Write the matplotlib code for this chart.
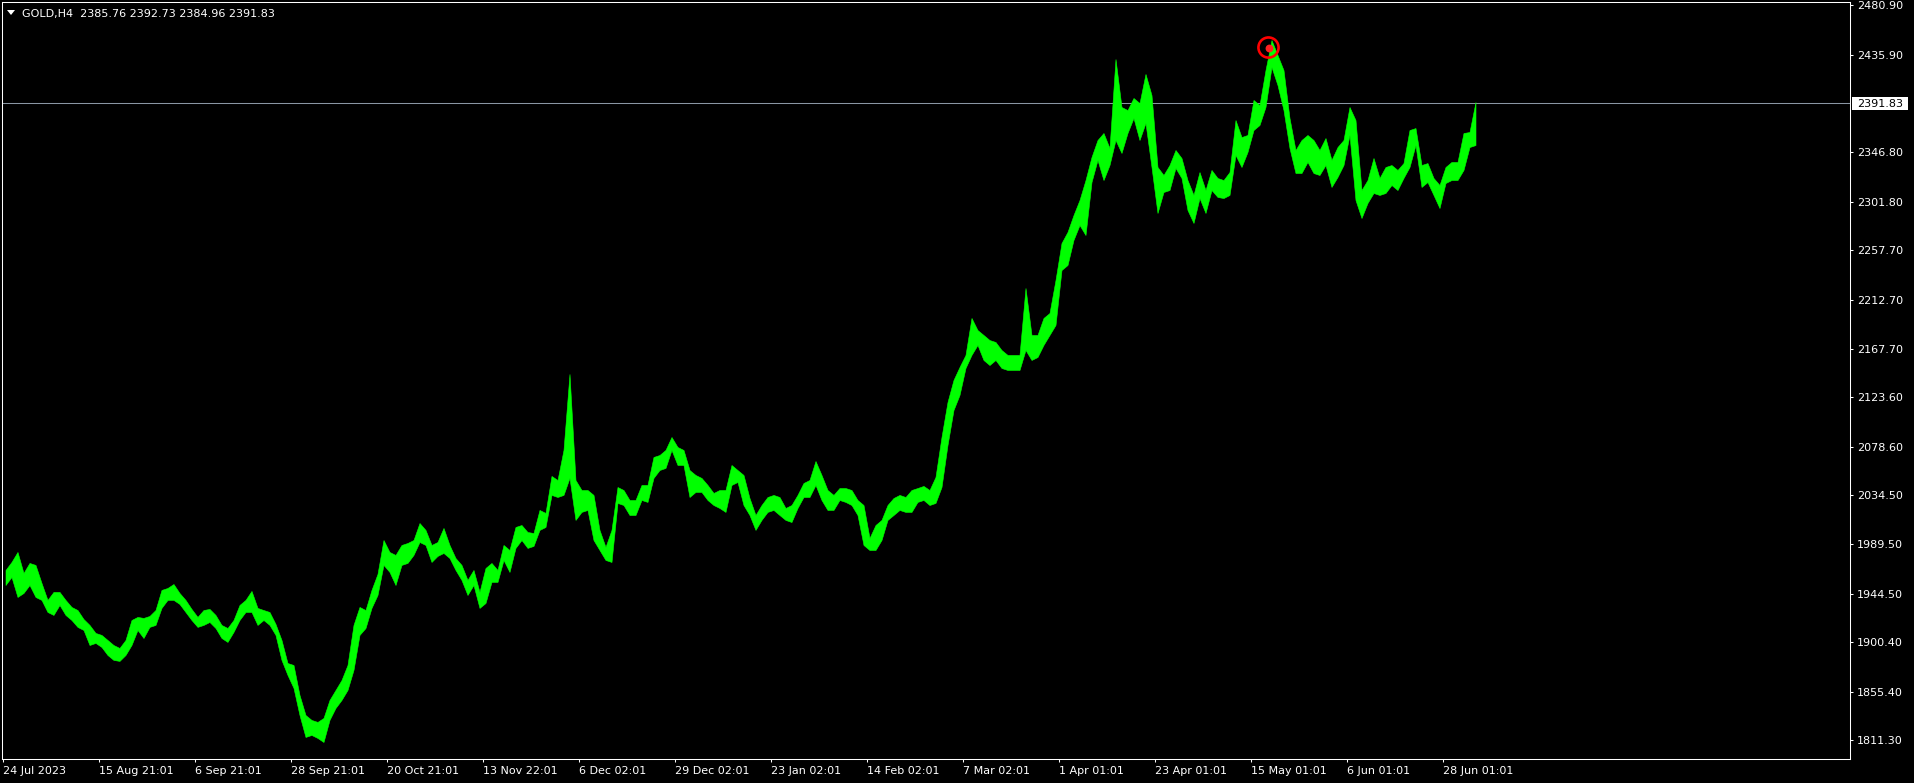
import numpy as np
import matplotlib.pyplot as plt
from matplotlib.patches import Polygon, Rectangle
from matplotlib.transforms import IdentityTransform

# GOLD,H4 - one high/low reading per trading day (6 H4 bars)
day_high = [
    1966.2, 1973.5, 1982.6, 1963.5, 1972.6, 1970.8, 1954.4, 1938.9, 1946.2, 1946.2,
    1938.9, 1932.5, 1929.7, 1921.5, 1916.1, 1908.8, 1907.0, 1902.4, 1897.8, 1895.1,
    1902.4, 1920.6, 1923.4, 1922.5, 1924.3, 1929.7, 1948.0, 1949.8, 1953.4, 1945.2,
    1938.9, 1930.7, 1923.4, 1929.7, 1930.7, 1925.2, 1916.1, 1913.3, 1920.6, 1934.3,
    1938.9, 1947.1, 1931.6, 1929.7, 1927.9, 1917.0, 1902.4, 1881.4, 1879.6, 1852.3,
    1834.0, 1829.5, 1827.7, 1831.3, 1847.7, 1856.8, 1865.9, 1879.6, 1916.1, 1932.5,
    1929.7, 1948.0, 1962.6, 1993.5, 1982.6, 1979.9, 1989.0, 1990.8, 1993.5, 2009.0,
    2002.7, 1989.0, 1991.7, 2004.5, 1989.0, 1977.1, 1970.8, 1957.1, 1966.2, 1946.2,
    1968.0, 1972.6, 1966.2, 1989.0, 1984.4, 2005.4, 2007.2, 2000.8, 1999.9, 2020.9,
    2018.2, 2051.9, 2048.2, 2075.6, 2144.8, 2048.2, 2039.1, 2039.1, 2034.6, 2002.7,
    1987.2, 2002.7, 2041.8, 2039.1, 2030.0, 2030.0, 2043.7, 2043.7, 2069.2, 2071.0,
    2075.6, 2087.4, 2078.3, 2075.6, 2057.3, 2052.8, 2050.1, 2043.7, 2036.4, 2039.1,
    2039.1, 2061.9, 2057.3, 2052.8, 2031.8, 2016.3, 2025.4, 2032.7, 2034.6, 2032.7,
    2022.7, 2025.4, 2034.6, 2045.5, 2048.2, 2065.5, 2052.8, 2039.1, 2034.6, 2040.9,
    2040.9, 2039.1, 2030.0, 2025.4, 1995.4, 2007.2, 2011.8, 2025.4, 2031.8, 2034.6,
    2032.7, 2039.1, 2040.9, 2042.8, 2039.1, 2051.0, 2087.4, 2119.3, 2139.4, 2151.2,
    2162.2, 2195.9, 2184.9, 2180.4, 2175.8, 2174.0, 2166.7, 2162.2, 2162.2, 2162.2,
    2223.2, 2180.4, 2180.4, 2195.9, 2200.4, 2230.5, 2264.2, 2274.3, 2289.7, 2303.4,
    2321.6, 2342.6, 2358.1, 2364.5, 2350.8, 2431.9, 2388.2, 2385.4, 2396.4, 2391.8,
    2418.3, 2399.1, 2333.5, 2326.2, 2335.3, 2349.0, 2341.7, 2321.6, 2308.0, 2328.9,
    2312.5, 2330.8, 2323.5, 2321.6, 2328.9, 2376.3, 2360.8, 2362.7, 2394.6, 2390.0,
    2421.9, 2449.2, 2435.6, 2421.9, 2378.2, 2349.0, 2358.1, 2362.7, 2358.1, 2349.0,
    2359.9, 2339.9, 2351.7, 2358.1, 2388.2, 2376.3, 2312.5, 2321.6, 2341.7, 2323.5,
    2333.5, 2335.3, 2330.8, 2337.1, 2367.2, 2369.0, 2335.3, 2337.1, 2323.5, 2317.1,
    2333.5, 2338.1, 2338.1, 2364.5, 2365.4, 2392.7,
]
day_low = [
    1952.5, 1959.8, 1941.6, 1945.2, 1952.5, 1941.6, 1938.9, 1927.9, 1925.2, 1934.3,
    1925.2, 1920.6, 1914.3, 1911.5, 1897.8, 1899.7, 1896.0, 1888.7, 1884.2, 1883.3,
    1888.7, 1897.8, 1911.5, 1904.2, 1914.3, 1916.1, 1931.6, 1938.9, 1938.9, 1935.2,
    1927.9, 1920.6, 1914.3, 1916.1, 1918.8, 1913.3, 1904.2, 1900.6, 1909.7, 1920.6,
    1927.9, 1927.9, 1916.1, 1920.6, 1916.1, 1907.0, 1884.2, 1870.5, 1858.7, 1834.0,
    1814.0, 1815.8, 1813.1, 1809.4, 1829.5, 1840.4, 1847.7, 1856.8, 1875.1, 1907.0,
    1913.3, 1931.6, 1943.4, 1970.8, 1964.4, 1952.5, 1970.8, 1972.6, 1979.9, 1991.7,
    1989.0, 1973.5, 1979.0, 1981.7, 1977.1, 1966.2, 1957.1, 1943.4, 1952.5, 1931.6,
    1936.1, 1955.3, 1955.3, 1975.3, 1964.4, 1986.3, 1993.5, 1986.3, 1988.1, 2002.7,
    2005.4, 2034.6, 2032.7, 2034.6, 2050.1, 2011.8, 2019.1, 2020.9, 1993.5, 1984.4,
    1975.3, 1973.5, 2027.3, 2025.4, 2016.3, 2016.3, 2030.0, 2028.2, 2050.1, 2057.3,
    2059.2, 2075.6, 2061.9, 2061.9, 2032.7, 2037.3, 2037.3, 2030.0, 2025.4, 2022.7,
    2019.1, 2043.7, 2046.4, 2025.4, 2016.3, 2002.7, 2011.8, 2019.1, 2020.9, 2016.3,
    2011.8, 2009.9, 2022.7, 2032.7, 2032.7, 2043.7, 2030.0, 2020.9, 2020.9, 2030.0,
    2028.2, 2025.4, 2016.3, 1989.0, 1984.4, 1984.4, 1993.5, 2011.8, 2016.3, 2020.9,
    2019.1, 2019.1, 2028.2, 2030.0, 2025.4, 2027.3, 2041.8, 2080.1, 2112.0, 2125.7,
    2150.3, 2162.2, 2171.3, 2157.6, 2153.0, 2157.6, 2150.3, 2148.5, 2148.5, 2148.5,
    2166.7, 2157.6, 2160.3, 2171.3, 2180.4, 2189.5, 2239.6, 2244.2, 2267.0, 2280.6,
    2271.5, 2319.8, 2339.9, 2321.6, 2335.3, 2358.1, 2346.3, 2364.5, 2378.2, 2358.1,
    2373.6, 2333.5, 2291.6, 2310.7, 2312.5, 2332.6, 2323.5, 2294.3, 2282.5, 2305.2,
    2291.6, 2312.5, 2306.2, 2305.2, 2308.0, 2344.4, 2333.5, 2347.2, 2367.2, 2371.8,
    2388.2, 2424.6, 2408.2, 2385.4, 2350.8, 2328.0, 2328.0, 2338.1, 2328.0, 2326.2,
    2335.3, 2315.3, 2324.4, 2335.3, 2362.7, 2303.4, 2287.0, 2300.7, 2309.8, 2308.0,
    2309.8, 2317.1, 2312.5, 2323.5, 2333.5, 2353.5, 2315.3, 2319.8, 2308.0, 2296.1,
    2318.9, 2321.6, 2321.6, 2330.8, 2351.7, 2353.5,
]

date_labels = ["24 Jul 2023", "15 Aug 21:01", "6 Sep 21:01", "28 Sep 21:01",
               "20 Oct 21:01", "13 Nov 22:01", "6 Dec 02:01", "29 Dec 02:01",
               "23 Jan 02:01", "14 Feb 02:01", "7 Mar 02:01", "1 Apr 01:01",
               "23 Apr 01:01", "15 May 01:01", "6 Jun 01:01", "28 Jun 01:01"]
price_ticks = [2480.90, 2435.90, 2346.80, 2301.80, 2257.70, 2212.70, 2167.70,
               2123.60, 2078.60, 2034.50, 1989.50, 1944.50, 1900.40, 1855.40, 1811.30]

last_ohlc = [2385.76, 2392.73, 2384.96, 2391.83]   # open high low close
bid = 2391.83
peak_bar, peak_price = 1265.5, 2442.4

bars_per_day = 6
bars_per_label = 96

W, H = 1914, 783
fig = plt.figure(figsize=(W / 100, H / 100), dpi=100, facecolor='black')
ax = fig.add_axes([2 / W, 24 / H, 1848 / W, 757 / H])
ax.set_facecolor('black')

bars = np.arange(len(day_high)) * bars_per_day + 2.5
ax.fill_between(bars, day_low, day_high, color='#00ff00', lw=0.4, zorder=3)

ax.axhline(bid, color='#8a96a3', lw=0.75, zorder=2)

# max marker
ax.scatter([peak_bar], [peak_price], s=210, facecolors='none',
           edgecolors='#ff0000', linewidths=1.9, zorder=5)
ax.scatter([peak_bar], [peak_price], s=32, color='#ff2020', lw=0, zorder=6)

ax.set_xlim(-1, 1847)
ax.set_ylim(1793.9, 2483.9)

ax.set_xticks(np.arange(len(date_labels)) * bars_per_label)
ax.set_xticklabels(date_labels, ha='left')
ax.yaxis.tick_right()
ax.set_yticks(price_ticks)
ax.set_yticklabels([f'{v:.2f}' for v in price_ticks])
ax.tick_params(axis='both', colors='white', labelcolor='white', labelsize=8,
               direction='out', length=2.2, width=0.75)
ax.tick_params(axis='x', pad=2.5)
ax.tick_params(axis='y', pad=2.8)
for s in ax.spines.values():
    s.set_color('white')
    s.set_linewidth(0.75)

# bid price label on the scale
fig.canvas.draw()
yb = ax.transData.transform((0, bid))[1]
fig.patches.append(Rectangle((1852, yb - 6.5), 56, 13, transform=IdentityTransform(),
                             facecolor='white', edgecolor='none', figure=fig))
fig.text(1857 / W, yb / H, f'{bid:.2f}', color='black', fontsize=8,
         ha='left', va='center_baseline')

# top-left header
fig.patches.append(Polygon([(7, H - 10), (15, H - 10), (11, H - 15)], closed=True,
                           transform=IdentityTransform(), facecolor='white',
                           edgecolor='none', figure=fig))
header = 'GOLD,H4  ' + ' '.join(f'{v:.2f}' for v in last_ohlc)
fig.text(22 / W, 1 - 12.7 / H, header, color='white', fontsize=8,
         ha='left', va='center_baseline')

fig.savefig('out.png', dpi=100, facecolor='black')
